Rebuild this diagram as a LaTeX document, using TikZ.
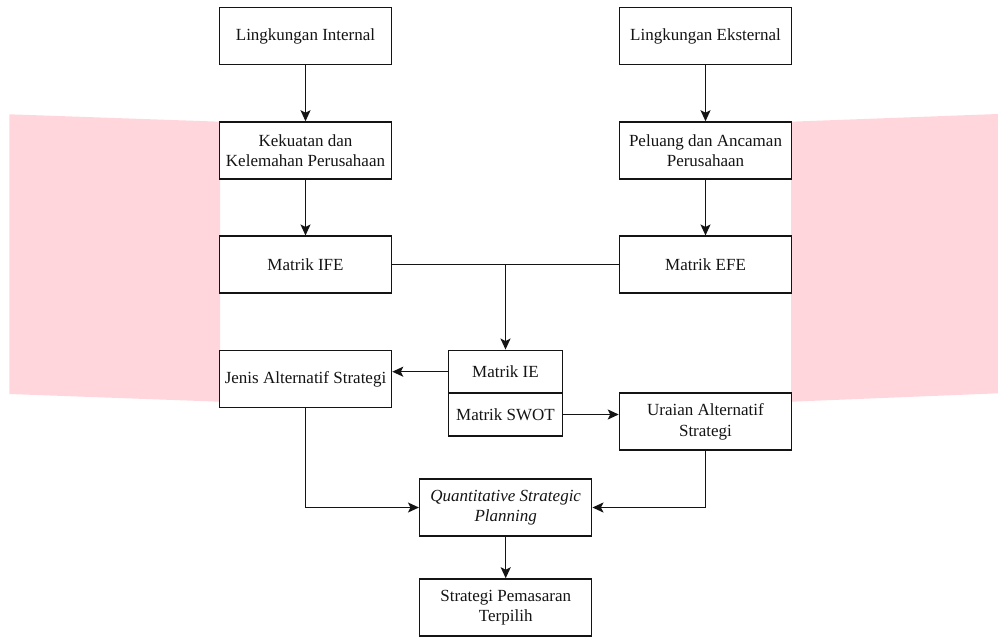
\documentclass[tikz,border=0pt]{standalone}
\usepackage{fontspec}
\setmainfont{Liberation Serif}
\usetikzlibrary{arrows.meta}
\definecolor{pinkbg}{RGB}{255,214,219}
\definecolor{ink}{RGB}{20,20,20}
\begin{document}
\begin{tikzpicture}[x=1pt,y=-1pt,
  box/.style={draw=ink, line width=1.5pt, fill=white, minimum width=172pt, minimum height=57pt,
    align=center, inner sep=2pt, font=\fontsize{17}{20.5}\selectfont, text=ink},
  halfbox/.style={draw=ink, line width=1.5pt, fill=white, minimum width=114.4pt, minimum height=42.8pt,
    align=center, inner sep=2pt, font=\fontsize{17}{20.5}\selectfont, text=ink},
  conn/.style={draw=ink, line width=1.5pt},
  arr/.style={conn, -{Stealth[length=11pt,width=10pt,inset=2.5pt]}}]
\useasboundingbox (0,0) rectangle (998,637);
% pink background shapes
\fill[pinkbg] (9.3,114.3) -- (220,121.7) -- (220,401.7) -- (9.3,394) -- cycle;
\fill[pinkbg] (791,121.7) -- (998,114) -- (998,393.3) -- (791,401.7) -- cycle;
% nodes
\node[box] (li) at (305.5,36) {Lingkungan Internal};
\node[box] (kk) at (305.5,150.5) {Kekuatan dan\\Kelemahan Perusahaan};
\node[box] (ife) at (305.5,264.7) {Matrik IFE};
\node[box] (jas) at (305.5,379.2) {Jenis Alternatif Strategi};
\node[box] (le) at (705.5,36) {Lingkungan Eksternal};
\node[box] (pa) at (705.5,150.5) {Peluang dan Ancaman\\Perusahaan};
\node[box] (efe) at (705.5,264.7) {Matrik EFE};
\node[box] (uas) at (705.5,421.6) {Uraian Alternatif\\Strategi};
\node[halfbox] (ie) at (505.5,371.7) {Matrik IE};
\node[halfbox] (swot) at (505.5,414.5) {Matrik SWOT};
\node[box] (qsp) at (505.7,507.5) {\itshape Quantitative Strategic\\\itshape Planning};
\node[box] (spt) at (505.7,607.5) {Strategi Pemasaran\\Terpilih};
% connectors
\draw[arr] (li) -- (kk);
\draw[arr] (kk) -- (ife);
\draw[arr] (le) -- (pa);
\draw[arr] (pa) -- (efe);
\draw[conn] (ife.east) -- (efe.west);
\draw[arr] (ife.east -| ie.north) -- (ie.north);
\draw[arr] (ie.west) -- (ie.west -| jas.east);
\draw[arr] (swot.east) -- (swot.east -| uas.west);
\draw[arr] (jas.south) |- (qsp.west);
\draw[arr] (uas.south) |- (qsp.east);
\draw[arr] (qsp) -- (spt);
\end{tikzpicture}
\end{document}
